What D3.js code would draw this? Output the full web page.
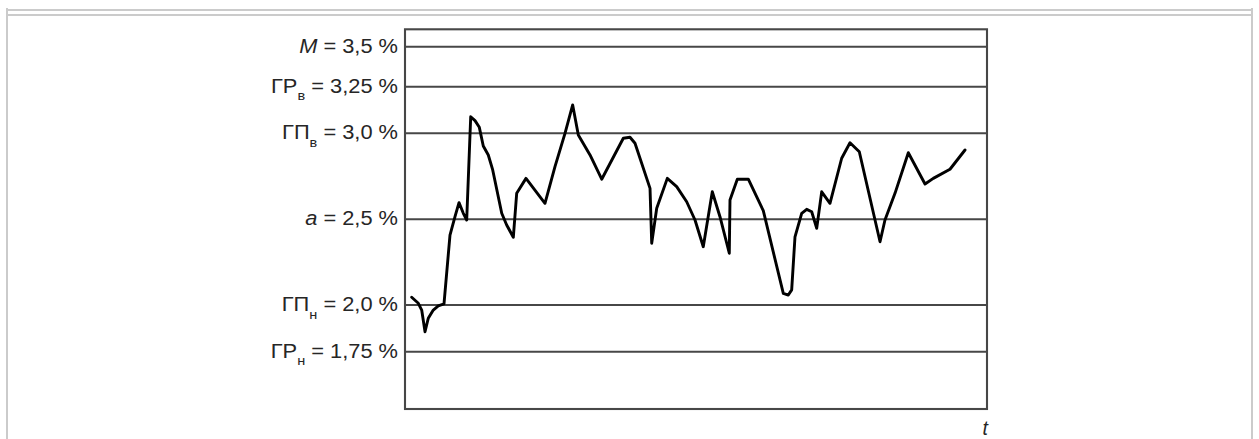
<!DOCTYPE html>
<html>
<head>
<meta charset="utf-8">
<script src="https://cdn.jsdelivr.net/npm/d3@7"></script>
<style>
  html, body { margin: 0; padding: 0; background: #fff; }
  svg { display: block; }
  .label { font-family: "Liberation Sans", Arial, sans-serif; font-size: 19.5px; fill: #262626; }
  .level { stroke: #474747; stroke-width: 1.9; }
  .frame { fill: none; stroke: #474747; stroke-width: 2.1; }
  .line { fill: none; stroke: #000; stroke-width: 2.9; stroke-linejoin: round; stroke-linecap: round; }
  .page { stroke: #cbcbcb; stroke-width: 2; fill: none; }
</style>
</head>
<body>
<div id="chart"></div>
<script>
// control levels, in %
const levelValues = [3.5, 3.25, 3.0, 2.5, 2.0, 1.75];
const levelMain = ["M", "ГР", "ГП", "a", "ГП", "ГР"];
const levelItalic = [true, false, false, true, false, false];
const levelSub = ["", "в", "в", "", "н", "н"];
const levelText = ["3,5", "3,25", "3,0", "2,5", "2,0", "1,75"];

// measured series: time (0..100 across the plot) and value in %
const seriesT = [1.15, 2.29, 2.87, 3.44, 4.00, 4.86, 5.72, 6.70, 7.73, 8.59,
  9.28, 10.02, 10.60, 11.29, 12.03, 12.77, 13.45, 14.31, 15.07, 16.62,
  17.47, 18.61, 19.19, 20.79, 24.05, 25.77, 27.49, 28.81, 29.78, 31.79,
  33.80, 37.51, 38.66, 39.52, 42.10, 42.39, 43.25, 45.07, 46.68, 48.40,
  49.83, 51.25, 52.80, 54.12, 55.72, 55.84, 57.10, 58.99, 61.56, 65.00,
  65.86, 66.44, 67.01, 68.16, 69.02, 69.88, 70.74, 71.60, 73.02, 75.03,
  76.46, 78.06, 81.62, 82.47, 84.19, 86.48, 89.35, 90.77, 93.64, 96.22];
const seriesV = [2.045, 2.010, 1.973, 1.857, 1.929, 1.973, 1.995, 2.006, 2.408, 2.515,
  2.597, 2.535, 2.496, 3.089, 3.068, 3.032, 2.926, 2.874, 2.787, 2.535,
  2.467, 2.395, 2.651, 2.738, 2.593, 2.806, 3.000, 3.152, 2.990, 2.874,
  2.733, 2.971, 2.977, 2.942, 2.680, 2.360, 2.564, 2.738, 2.690, 2.602,
  2.496, 2.340, 2.660, 2.515, 2.302, 2.612, 2.733, 2.733, 2.550, 2.068,
  2.058, 2.088, 2.398, 2.535, 2.558, 2.544, 2.447, 2.660, 2.593, 2.855,
  2.945, 2.893, 2.369, 2.496, 2.651, 2.887, 2.705, 2.738, 2.791, 2.903];

const W = 1259, H = 439;
const plot = {left: 405, right: 987, top: 29.3, bottom: 409};

const svg = d3.select("#chart").append("svg")
    .attr("width", W)
    .attr("height", H);

// light page frame
svg.append("path").attr("class", "page")
    .attr("d", `M7,439 V8 M1252,439 V8 M7,10 H1252 M7,15 H1252`);

const x = d3.scaleLinear()
    .domain([0, 100])
    .range([plot.left, plot.right]);

// the levels in the drawing are not evenly spaced, so piecewise scale
const y = d3.scaleLinear()
    .domain([1.443, 1.75, 2.0, 2.5, 3.0, 3.25, 3.5, 3.609])
    .range([plot.bottom, 351.7, 305, 219.3, 133.3, 86.7, 46.7, plot.top]);

svg.selectAll(".level")
    .data(levelValues)
    .enter().append("line")
    .attr("class", "level")
    .attr("x1", x(0))
    .attr("x2", x(100))
    .attr("y1", d => y(d))
    .attr("y2", d => y(d));

svg.append("rect")
    .attr("class", "frame")
    .attr("x", x(0))
    .attr("y", y(3.609))
    .attr("width", x(100) - x(0))
    .attr("height", y(1.443) - y(3.609));

const line = d3.line()
    .x(d => x(d[0]))
    .y(d => y(d[1]));

svg.append("path")
    .datum(d3.zip(seriesT, seriesV))
    .attr("class", "line")
    .attr("d", line);

// labels on the left
const labels = svg.selectAll(".lab")
    .data(levelValues)
    .enter().append("text")
    .attr("class", "label")
    .attr("text-anchor", "end")
    .attr("transform", d => `translate(398,${y(d) + 6}) scale(1.12,1)`);

labels.each(function(d, i) {
    const t = d3.select(this);
    t.append("tspan")
        .attr("font-style", levelItalic[i] ? "italic" : null)
        .text(levelMain[i]);
    if (levelSub[i]) {
        t.append("tspan").attr("font-size", "13px").attr("dy", 7.5).text(levelSub[i]);
        t.append("tspan").attr("dy", -7.5).text(` = ${levelText[i]} %`);
    } else {
        t.append("tspan").text(` = ${levelText[i]} %`);
    }
});

svg.append("text")
    .attr("class", "label")
    .attr("font-style", "italic")
    .attr("text-anchor", "end")
    .attr("x", x(100) + 1)
    .attr("y", 435)
    .text("t");
</script>
</body>
</html>
